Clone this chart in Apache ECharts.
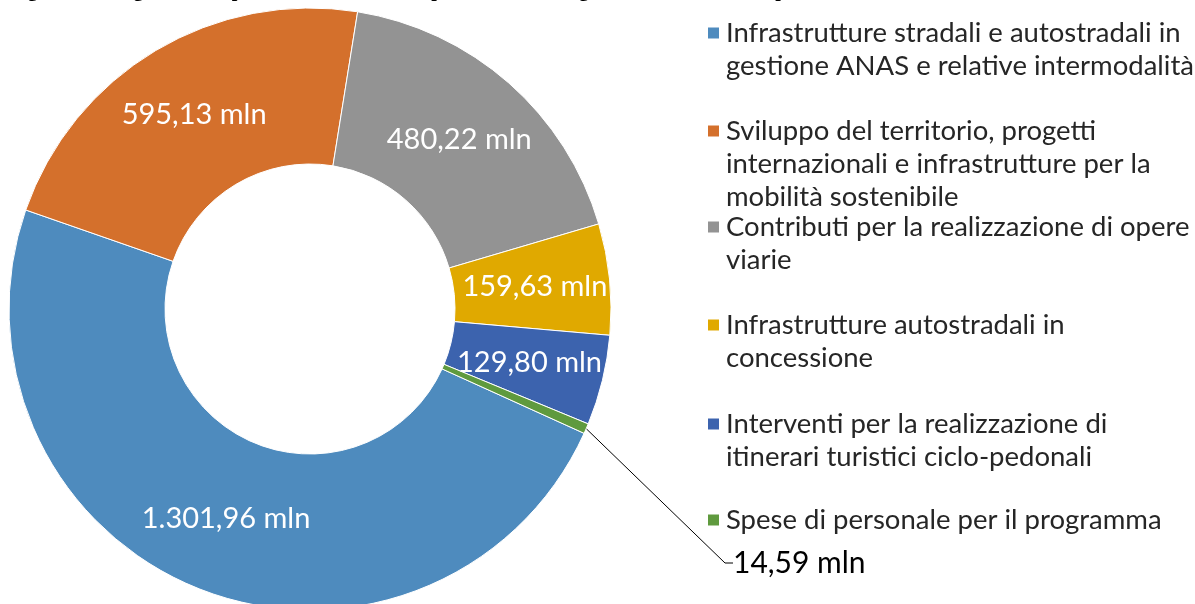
<!DOCTYPE html>
<html lang="it">
<head>
    <meta charset="UTF-8">
    <title>Ripartizione risorse</title>
    <script src="https://cdn.jsdelivr.net/npm/echarts@6/dist/echarts.min.js"></script>
    <style>
        html, body { margin: 0; padding: 0; background: #fff; }
    </style>
</head>
<body>
    <div id="main" style="width:1195px;height:604px;"></div>

    <script>
        // voci della legenda (a capo come nel grafico originale)
        const categories = [
            "Infrastrutture stradali e autostradali in\ngestione ANAS e relative intermodalità",
            "Sviluppo del territorio, progetti\ninternazionali e infrastrutture per la\nmobilità sostenibile",
            "Contributi per la realizzazione di opere\nviarie",
            "Infrastrutture autostradali in\nconcessione",
            "Interventi per la realizzazione di\nitinerari turistici ciclo-pedonali",
            "Spese di personale per il programma"
        ];
        // milioni di euro
        const values = [1301.96, 595.13, 480.22, 159.63, 129.80, 14.59];
        const colors = ['#4e8bbe', '#d4702c', '#939393', '#e0a900', '#3c63ae', '#5f9a3e'];
        // y del centro della prima riga di ogni voce
        const legendRows = [33, 131, 227, 325, 424, 520];

        const FONT = 'Lato';
        const LINE_H = 33;

        // formato italiano: 1.301,96
        function fmtIt(v) {
            const parts = v.toFixed(2).split('.');
            const int = parts[0].replace(/\B(?=(\d{3})+(?!\d))/g, '.');
            return int + ',' + parts[1] + ' mln';
        }

        const legends = categories.map(function (name, i) {
            const n = name.split('\n').length;
            return {
                data: [name],
                left: 706,
                top: legendRows[i] - (2 * n - 1) * LINE_H / 2,
                padding: 0,
                itemWidth: 13,
                itemHeight: 13,
                icon: 'rect',
                selectedMode: false,
                // righe vuote davanti: l'icona resta sulla prima riga
                formatter: function (s) {
                    return '\n'.repeat(n - 1) + s;
                },
                textStyle: {
                    fontFamily: FONT,
                    fontSize: 27.5,
                    lineHeight: LINE_H,
                    color: '#262626',
                    padding: [0, 0, 0, 1]
                }
            };
        });

        const pieData = categories.map(function (name, i) {
            const item = { name: name, value: values[i] };
            if (i === 5) {
                item.label = {
                    position: 'outside',
                    color: '#000',
                    fontSize: 30
                };
                item.labelLine = {
                    show: true,
                    length: 10,
                    length2: 8,
                    lineStyle: { color: '#000', width: 1 }
                };
            }
            return item;
        });

        const option = {
            animation: false,
            color: colors,
            graphic: [{
                type: 'text',
                left: 10,
                top: -19,
                style: {
                    text: 'Figura 1 – Programma: ripartizione delle risorse per ambito strategico del settore del trasporto stradale e autostradale',
                    font: 'bold 20px "Liberation Serif"',
                    fill: '#000'
                }
            }],
            legend: legends,
            series: [{
                type: 'pie',
                center: [310, 309],
                radius: [145, 301],
                startAngle: -24.4,
                clockwise: true,
                avoidLabelOverlap: false,
                itemStyle: { borderColor: '#fff', borderWidth: 1 },
                label: {
                    show: true,
                    position: 'inside',
                    color: '#fff',
                    fontFamily: FONT,
                    fontSize: 29,
                    formatter: function (p) { return fmtIt(p.value); }
                },
                labelLine: { show: false },
                labelLayout: function (p) {
                    if (p.dataIndex === 5) {
                        return { x: 733, y: 563, align: 'left', verticalAlign: 'middle' };
                    }
                },
                emphasis: { disabled: true },
                data: pieData
            }]
        };

        const myChart = echarts.init(document.getElementById('main'));
        myChart.setOption(option);
    </script>
</body>
</html>
